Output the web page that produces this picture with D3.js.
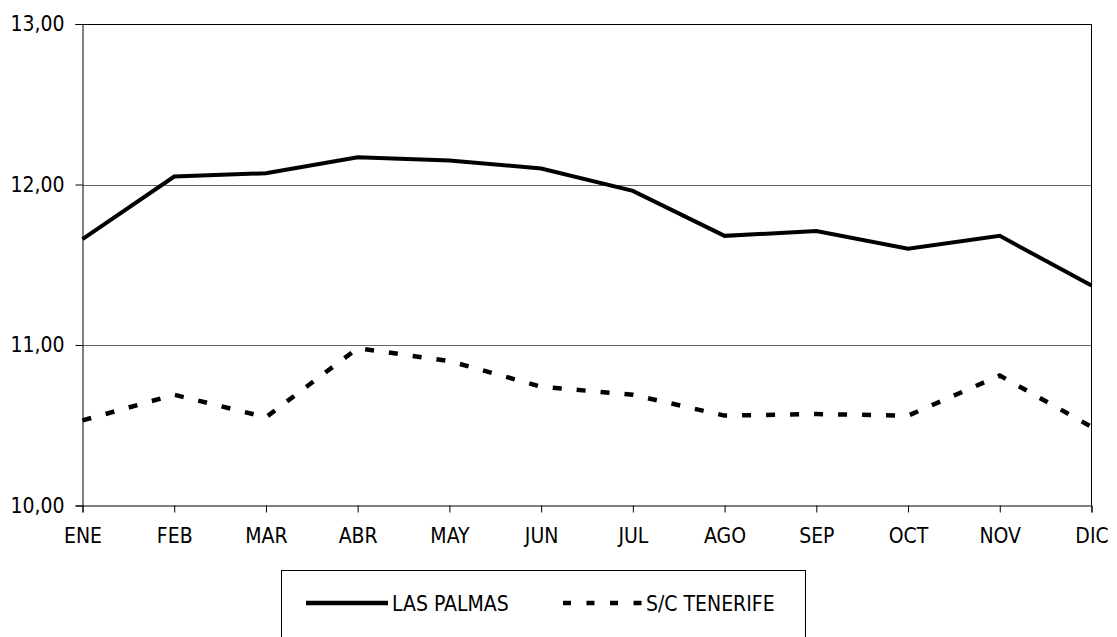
<!DOCTYPE html>
<html>
<head>
<meta charset="utf-8">
<script src="https://cdn.jsdelivr.net/npm/d3@7"></script>
<style>
  html, body { margin: 0; padding: 0; background: #fff; }
  svg text { font-family: "DejaVu Sans Condensed", "DejaVu Sans", sans-serif; fill: #000; }
</style>
</head>
<body>
<svg id="chart" width="1117" height="637"></svg>
<script>
// Monthly values for the two provinces
const months = ["ENE", "FEB", "MAR", "ABR", "MAY", "JUN", "JUL", "AGO", "SEP", "OCT", "NOV", "DIC"];
const lasPalmas = [11.66, 12.05, 12.07, 12.17, 12.15, 12.10, 11.96, 11.68, 11.71, 11.60, 11.68, 11.37];
const tenerife = [10.53, 10.69, 10.55, 10.98, 10.90, 10.74, 10.69, 10.56, 10.57, 10.56, 10.81, 10.49];
const yTicks = [10, 11, 12, 13];
const seriesNames = ["LAS PALMAS", "S/C TENERIFE"];

const svg = d3.select("#chart");
const plotLeft = 82.5, plotRight = 1091.5, plotTop = 24, plotBottom = 505.5;
const fontSize = 21;

const x = d3.scalePoint().domain(months).range([plotLeft, plotRight]).padding(0);
const y = d3.scaleLinear().domain([10, 13]).range([plotBottom, plotTop]);
const fmt = v => d3.format(".2f")(v).replace(".", ",");

// horizontal grid lines
svg.append("g").selectAll("line")
  .data(yTicks.filter(v => v > 10 && v < 13))
  .join("line")
  .attr("x1", plotLeft).attr("x2", plotRight)
  .attr("y1", d => Math.round(y(d)) + 0.5).attr("y2", d => Math.round(y(d)) + 0.5)
  .attr("stroke", "#666").attr("stroke-width", 1);

// plot frame: top and right edges
svg.append("line").attr("x1", plotLeft).attr("x2", plotRight).attr("y1", plotTop + 0.5).attr("y2", plotTop + 0.5)
  .attr("stroke", "#000");
svg.append("line").attr("x1", plotRight).attr("x2", plotRight).attr("y1", plotTop).attr("y2", plotBottom)
  .attr("stroke", "#000");

// y axis
const yAxis = svg.append("g").attr("transform", `translate(${plotLeft},0)`)
  .call(d3.axisLeft(y).tickValues(yTicks).tickFormat(fmt).tickSizeOuter(0).tickSize(7).tickPadding(11));
yAxis.select(".domain").attr("stroke", "#000");
yAxis.selectAll(".tick line").attr("stroke", "#000");
yAxis.selectAll("text").attr("font-size", fontSize).attr("font-family", null);

// x axis
const xAxis = svg.append("g").attr("transform", `translate(0,${plotBottom})`)
  .call(d3.axisBottom(x).tickSizeOuter(0).tickSize(7).tickPadding(16));
xAxis.select(".domain").attr("stroke", "#000");
xAxis.selectAll(".tick line").attr("stroke", "#000");
xAxis.selectAll("text").attr("font-size", fontSize).attr("font-family", null);

const line = d3.line().x((d, i) => x(months[i])).y(d => y(d));

const plot = svg.append("g");
plot.append("path").datum(lasPalmas)
  .attr("d", line).attr("fill", "none").attr("stroke", "#000")
  .attr("stroke-width", 4).attr("stroke-linejoin", "miter");
plot.append("path").datum(tenerife)
  .attr("d", line).attr("fill", "none").attr("stroke", "#000")
  .attr("stroke-width", 4.5).attr("stroke-dasharray", "9,15");

// legend
const legend = svg.append("g");
legend.append("rect").attr("x", 281.5).attr("y", 570.5).attr("width", 524).attr("height", 80)
  .attr("fill", "#fff").attr("stroke", "#000");
const styles = [
  { name: seriesNames[0], x1: 306, x2: 388, dash: null, tx: 392 },
  { name: seriesNames[1], x1: 563, x2: 642, dash: "8,15.5", tx: 646 }
];
styles.forEach(s => {
  legend.append("line").attr("x1", s.x1).attr("x2", s.x2).attr("y1", 603).attr("y2", 603)
    .attr("stroke", "#000").attr("stroke-width", 4.5).attr("stroke-dasharray", s.dash);
  legend.append("text").attr("x", s.tx).attr("y", 611).attr("font-size", fontSize).text(s.name);
});
</script>
</body>
</html>
